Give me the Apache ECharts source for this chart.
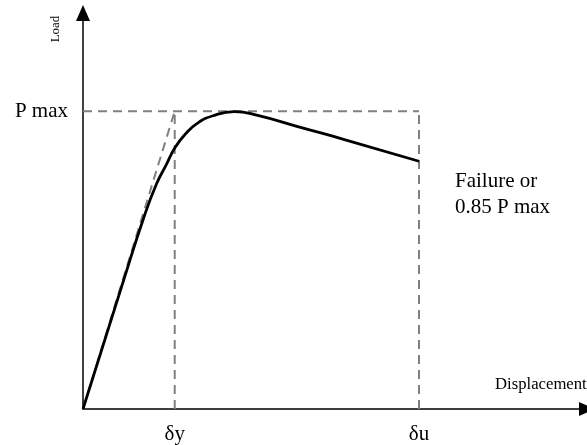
<!DOCTYPE html>
<html>
<head>
<meta charset="utf-8">
<script src="https://cdn.jsdelivr.net/npm/echarts@6/dist/echarts.min.js"></script>
<style>
  html, body { margin: 0; padding: 0; background: #fff; }
  #main { width: 587px; height: 445px; }
</style>
</head>
<body>
<div id="main"></div>
<script>
// values (load scaled so that P max = 100, displacement so that du = 100)
var PMAX = 100;
var DY = 27.3;
var DU = 100;
var dispCurve = [0, 12.2, 18.1, 21.8, 24.8, 27.4, 30.6, 34.1, 38.7, 45.0, 52.0, 65.0, 77.8, 100];
var loadCurve = [0, 43.6, 64.3, 75.4, 82.1, 87.8, 92.5, 96.0, 98.5, 99.9, 98.6, 94.5, 90.5, 83.2];
var xTickValues = [DY, DU];
var xTickLabels = ['δy', 'δu'];
var yTickValues = [PMAX];
var yTickLabels = ['P max'];

var serif = '"Liberation Serif", "DejaVu Serif", serif';
var dashGray = '#808080';

var curve = [];
for (let i = 0; i < dispCurve.length; i++) {
    curve.push([dispCurve[i], loadCurve[i]]);
}

function dashed(data) {
    return {
        type: 'line',
        data: data,
        symbol: 'none',
        silent: true,
        lineStyle: { color: dashGray, width: 2, type: [9, 6] },
        z: 1
    };
}

var chart = echarts.init(document.getElementById('main'));
chart.setOption({
    animation: false,
    grid: { left: 83, right: -11, top: 13, bottom: 35 },
    xAxis: {
        type: 'value',
        min: 0,
        max: 150,
        splitLine: { show: false },
        axisTick: { show: false },
        axisLine: {
            onZero: false,
            symbol: ['none', 'triangle'],
            symbolSize: [14, 16],
            lineStyle: { color: '#000', width: 1.5 }
        },
        axisLabel: {
            customValues: xTickValues,
            margin: 15,
            color: '#000',
            fontFamily: serif,
            fontSize: 21,
            formatter: function (v) {
                let i = xTickValues.indexOf(v);
                return i >= 0 ? xTickLabels[i] : '';
            }
        }
    },
    yAxis: {
        type: 'value',
        min: 0,
        max: 133,
        splitLine: { show: false },
        axisTick: { show: false },
        axisLine: {
            onZero: false,
            symbol: ['none', 'triangle'],
            symbolSize: [14, 16],
            lineStyle: { color: '#000', width: 1.5 }
        },
        axisLabel: {
            customValues: yTickValues,
            margin: 15,
            color: '#000',
            fontFamily: serif,
            fontSize: 21,
            formatter: function (v) {
                let i = yTickValues.indexOf(v);
                return i >= 0 ? yTickLabels[i] : '';
            }
        }
    },
    series: [
        dashed([[0, PMAX], [DU, PMAX]]),
        dashed([[DY, 0], [DY, PMAX]]),
        dashed([[DU, 0], [DU, PMAX]]),
        dashed([[0, 0], [DY, PMAX]]),
        {
            type: 'line',
            data: curve,
            smooth: 0.5,
            symbol: 'none',
            lineStyle: { color: '#000', width: 2.8 },
            z: 3
        }
    ],
    graphic: [
        {
            type: 'text',
            x: 56,
            y: 29,
            rotation: Math.PI / 2,
            style: {
                text: 'Load',
                font: '13px ' + serif,
                fill: '#000',
                align: 'center',
                verticalAlign: 'middle'
            }
        },
        {
            type: 'text',
            x: 495,
            y: 385,
            style: {
                text: 'Displacement',
                font: '16.7px ' + serif,
                fill: '#000',
                align: 'left',
                verticalAlign: 'middle'
            }
        },
        {
            type: 'text',
            x: 455,
            y: 168,
            style: {
                text: 'Failure or\n0.85 P max',
                font: '21px ' + serif,
                lineHeight: 26,
                fill: '#000',
                align: 'left',
                verticalAlign: 'top'
            }
        }
    ]
});
</script>
</body>
</html>
